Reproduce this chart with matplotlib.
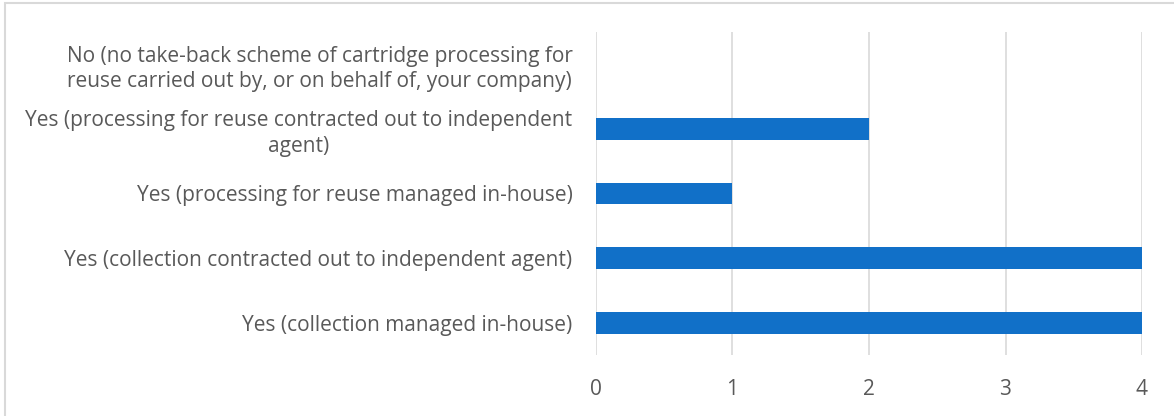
import matplotlib.pyplot as plt
from matplotlib.patches import Rectangle

categories = [
    "Yes (collection managed in-house)",
    "Yes (collection contracted out to independent agent)",
    "Yes (processing for reuse managed in-house)",
    "Yes (processing for reuse contracted out to independent\nagent)",
    "No (no take-back scheme of cartridge processing for\nreuse carried out by, or on behalf of, your company)",
]
values = [4, 4, 1, 2, 0]
x_ticks = [0, 1, 2, 3, 4]

plt.rcParams['font.family'] = ['Open Sans', 'DejaVu Sans']

fig = plt.figure(figsize=(11.74, 4.16), dpi=100)
ax = fig.add_axes([596 / 1174, 61 / 416, 546 / 1174, 323 / 416])

ax.barh(range(len(categories)), values, height=0.34, color='#1170C8', zorder=3)
ax.set_xlim(0, 4)
ax.set_ylim(-0.5, len(categories) - 0.5)
ax.set_xticks(x_ticks)
ax.set_yticks(range(len(categories)))
ax.set_yticklabels(categories, multialignment='center', linespacing=1.28)
ax.tick_params(axis='both', length=0, labelsize=15, colors='#595959')
ax.tick_params(axis='y', pad=17)
ax.tick_params(axis='x', pad=17)
ax.grid(axis='x', color='#D9D9D9', linewidth=1.2, zorder=0)
for s in ax.spines.values():
    s.set_visible(False)

# light frame around the chart area
fig.patches.append(Rectangle((5 / 1174, -0.01), 1.02, (416 - 3) / 416 + 0.01,
                             transform=fig.transFigure, fill=False,
                             edgecolor='#D9D9D9', linewidth=1.5))

fig.savefig('out.png', dpi=100)
